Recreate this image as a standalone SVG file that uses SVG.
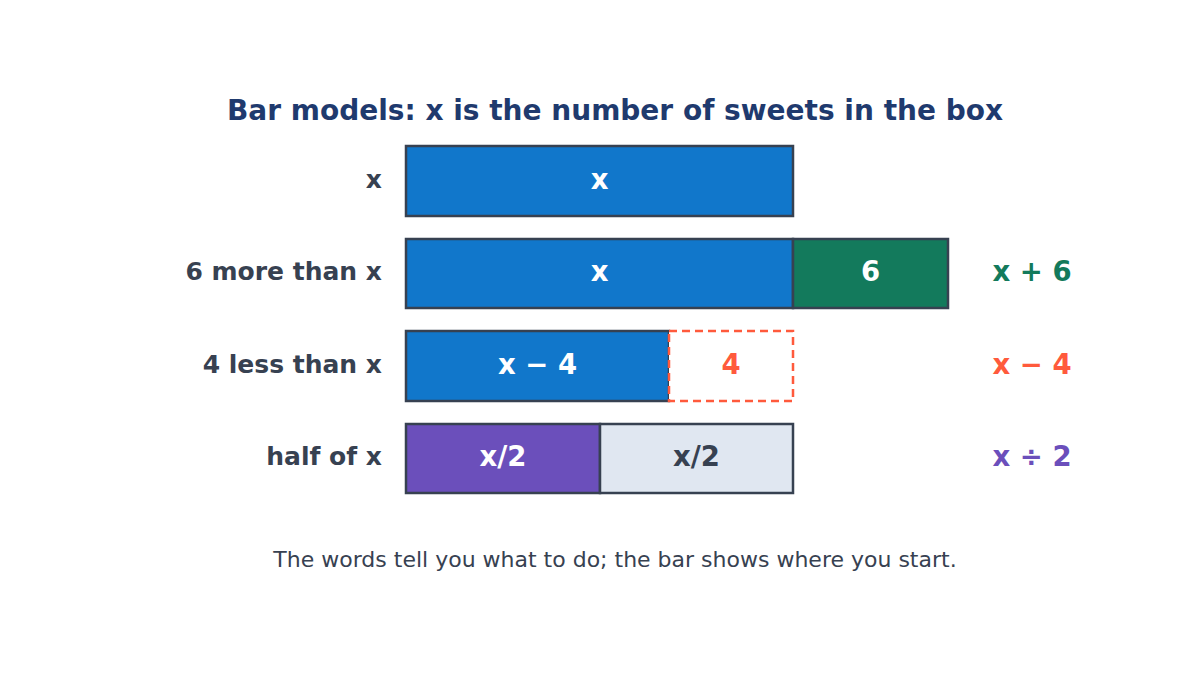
<svg xmlns="http://www.w3.org/2000/svg" width="1200" height="675" viewBox="0 0 1200 675">
<style>
text{font-family:"DejaVu Sans","Liberation Sans",sans-serif}
.t{font-size:28px;font-weight:bold;fill:#1f3a6e;text-anchor:middle}
.lab{font-size:25px;font-weight:bold;fill:#374151;text-anchor:end}
.in{font-size:27.5px;font-weight:bold;text-anchor:middle}
.ex{font-size:27.5px;font-weight:bold;text-anchor:middle}
.bar{stroke:#374151;stroke-width:2.5}
.foot{font-size:22px;fill:#374151;text-anchor:middle}
</style>
<rect width="1200" height="675" fill="#ffffff"/>
<text class="t" x="615" y="120">Bar models: x is the number of sweets in the box</text>
<g id="row1">
<text class="lab" x="382" y="188">x</text>
<rect class="bar" x="406" y="146" width="387" height="70" fill="#1177cb"/>
<text class="in" x="599.5" y="189" fill="#ffffff">x</text>
</g>
<g id="row2">
<text class="lab" x="382" y="280">6 more than x</text>
<rect class="bar" x="406" y="239" width="387" height="69" fill="#1177cb"/>
<text class="in" x="599.5" y="281" fill="#ffffff">x</text>
<rect class="bar" x="793" y="239" width="155" height="69" fill="#137a5c"/>
<text class="in" x="870.5" y="281" fill="#ffffff">6</text>
<text class="ex" x="1032" y="281" fill="#137a5c">x + 6</text>
</g>
<g id="row3">
<text class="lab" x="382" y="373">4 less than x</text>
<rect class="bar" x="406" y="331" width="263" height="70" fill="#1177cb"/>
<text class="in" x="537.5" y="374" fill="#ffffff">x − 4</text>
<rect x="669" y="331" width="124" height="70" fill="#ffffff" stroke="#ff5a3c" stroke-width="2.5" stroke-dasharray="8,5"/>
<text class="in" x="731" y="374" fill="#ff5a3c">4</text>
<text class="ex" x="1032" y="374" fill="#ff5a3c">x − 4</text>
</g>
<g id="row4">
<text class="lab" x="382" y="465">half of x</text>
<rect class="bar" x="406" y="424" width="194" height="69" fill="#6b4fbb"/>
<text class="in" x="503" y="466" fill="#ffffff">x/2</text>
<rect class="bar" x="600" y="424" width="193" height="69" fill="#e0e7f1"/>
<text class="in" x="696.5" y="466" fill="#374151">x/2</text>
<text class="ex" x="1032" y="466" fill="#6b4fbb">x ÷ 2</text>
</g>
<g id="connectors"></g>
<text class="foot" x="615" y="567">The words tell you what to do; the bar shows where you start.</text>
</svg>
